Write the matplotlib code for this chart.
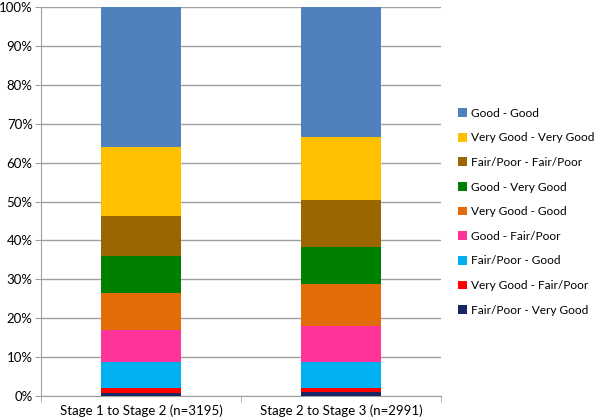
import matplotlib
matplotlib.use("Agg")
import matplotlib.pyplot as plt
import numpy as np

plt.rcParams['font.family'] = ['Lato', 'DejaVu Sans']

# categories and stacked series (percent), bottom to top
categories = ['Stage 1 to Stage 2 (n=3195)', 'Stage 2 to Stage 3 (n=2991)']
series_names = ['Fair/Poor - Very Good', 'Very Good - Fair/Poor', 'Fair/Poor - Good',
                'Good - Fair/Poor', 'Very Good - Good', 'Good - Very Good',
                'Fair/Poor - Fair/Poor', 'Very Good - Very Good', 'Good - Good']
series_values = [
    [0.8, 1.0],
    [1.2, 1.1],
    [6.7, 6.6],
    [8.2, 9.3],
    [9.5, 10.7],
    [9.7, 9.5],
    [10.1, 12.1],
    [17.8, 16.2],
    [36.0, 33.5],
]
colors = ['#1A2563', '#FF0000', '#00B0F0', '#FF3399', '#E36C09',
          '#008000', '#996600', '#FFC000', '#4F81BD']

fig = plt.figure(figsize=(6, 4.2), dpi=100)
ax = fig.add_axes([0.0683, 0.057, 0.6667, 0.926])

x = np.arange(len(categories))
bottom = np.zeros(len(categories))
handles = []
for name, vals, c in zip(series_names, series_values, colors):
    vals = np.array(vals)
    b = ax.bar(x, vals, width=0.4, bottom=bottom, color=c, label=name, zorder=3)
    handles.append(b)
    bottom += vals

ax.set_xlim(-0.5, 1.5)
ax.set_ylim(0, 100)
ax.set_yticks(np.arange(0, 101, 10))
ax.set_yticklabels([f'{v}%' for v in range(0, 101, 10)], fontsize=9.5)
ax.yaxis.grid(True, color='#A0A0A0', linewidth=1, zorder=0)
ax.set_xticks(x)
ax.set_xticklabels(categories, fontsize=9.5)
ax.set_xticks([-0.5, 0.5, 1.5], minor=True)
ax.tick_params(axis='x', which='major', length=0, pad=6)
ax.tick_params(axis='x', which='minor', length=4, color='#A0A0A0')
ax.tick_params(axis='y', length=4, color='#A0A0A0', pad=2)
for s in ['top', 'right']:
    ax.spines[s].set_visible(False)
for s in ['left', 'bottom']:
    ax.spines[s].set_color('#A0A0A0')

leg = fig.legend(handles[::-1], series_names[::-1], loc='upper left',
                 bbox_to_anchor=(0.757, 0.752), frameon=False, fontsize=8.6,
                 handlelength=0.75, handleheight=0.75, handletextpad=0.35,
                 labelspacing=1.14, borderpad=0.3, borderaxespad=0)

fig.savefig('out.png', dpi=100)
